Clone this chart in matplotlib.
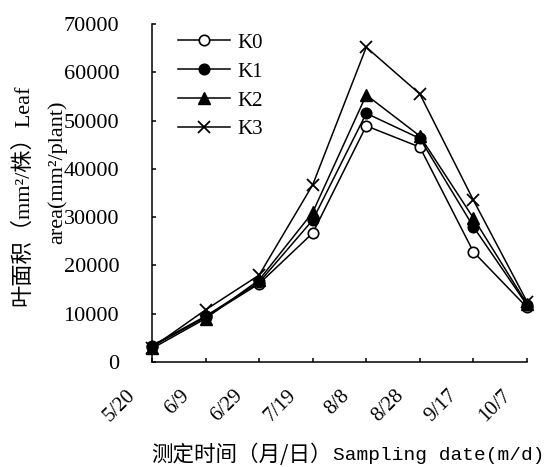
import matplotlib
matplotlib.use("Agg")
import matplotlib.pyplot as plt
from matplotlib.transforms import ScaledTranslation

dates = ["5/20", "6/9", "6/29", "7/19", "8/8", "8/28", "9/17", "10/7"]
K0 = [3200, 9300, 16200, 26700, 48900, 44500, 22800, 11300]
K1 = [3400, 9500, 16500, 29400, 51500, 46300, 28000, 11800]
K2 = [2800, 9000, 17000, 31000, 55300, 46800, 29800, 12000]
K3 = [3000, 10800, 18000, 36700, 65200, 55500, 33500, 12500]
series_names = ["K0", "K1", "K2", "K3"]
yticks = [0, 10000, 20000, 30000, 40000, 50000, 60000, 70000]

serif = ["Liberation Serif", "Noto Sans CJK SC"]
cjk = ["Noto Sans CJK SC", "Liberation Serif"]

fig = plt.figure(figsize=(5.47, 4.67), dpi=100)
W, H = 547, 467
ax = fig.add_axes([152 / W, 1 - 362 / H, (527 - 152) / W, (362 - 24) / H])

x = list(range(len(dates)))
styles = [
    dict(marker="o", markerfacecolor="white", markersize=7.5, markeredgewidth=1.2),
    dict(marker="o", markerfacecolor="black", markersize=7.5, markeredgewidth=1.2),
    dict(marker="^", markerfacecolor="black", markersize=9, markeredgewidth=1.0),
    dict(marker="x", markersize=8, markeredgewidth=1.3),
]
for vals, name, st in zip([K0, K1, K2, K3], series_names, styles):
    ax.plot(x, vals, color="black", lw=1.1, markeredgecolor="black",
            label=name, clip_on=False, **st)

ax.set_xlim(0, 7)
ax.set_ylim(0, 70000)
ax.set_yticks(yticks)
ax.set_yticklabels([str(v) for v in yticks], fontfamily=serif, fontsize=16)
ax.set_xticks(x)
ax.set_xticklabels(dates, fontfamily=serif, fontsize=15, rotation=45,
                   ha="right", va="center", rotation_mode="anchor")

for s in ["top", "right"]:
    ax.spines[s].set_visible(False)
for s in ["left", "bottom"]:
    ax.spines[s].set_linewidth(1.1)

ax.tick_params(axis="y", direction="in", length=3, width=1.1, pad=2)
ax.tick_params(axis="x", direction="in", length=3, width=1.1, pad=0)

offx = ScaledTranslation(-19 / 100, -31 / 100, fig.dpi_scale_trans)
for lab in ax.get_xticklabels():
    lab.set_transform(lab.get_transform() + offx)
offy = ScaledTranslation(-30 / 100, 0, fig.dpi_scale_trans)
for lab in ax.get_yticklabels():
    lab.set_transform(lab.get_transform() + offy)

leg = ax.legend(loc="upper left", bbox_to_anchor=(178 / W, 1 - 33 / H),
                bbox_transform=fig.transFigure, frameon=False,
                prop={"family": serif, "size": 15}, handlelength=2.5,
                handletextpad=0.35, labelspacing=0.45, borderpad=0,
                borderaxespad=0)

fig.text(23 / W, 1 - 195 / H, "叶面积（mm²/株）Leaf", rotation=90,
         ha="center", va="center", fontfamily=serif, fontsize=16)
fig.text(57 / W, 1 - 172 / H, "area(mm²/plant)", rotation=90,
         ha="center", va="center", fontfamily=serif, fontsize=16)
fig.text(151 / W, 1 - 455 / H, "测定时间（月/日）",
         ha="left", va="center", fontfamily=cjk, fontsize=15.5)
fig.text(333 / W, 1 - 455 / H, "Sampling date(m/d)",
         ha="left", va="center", fontfamily=["Liberation Mono"], fontsize=14)

fig.savefig("out.png", dpi=100)
